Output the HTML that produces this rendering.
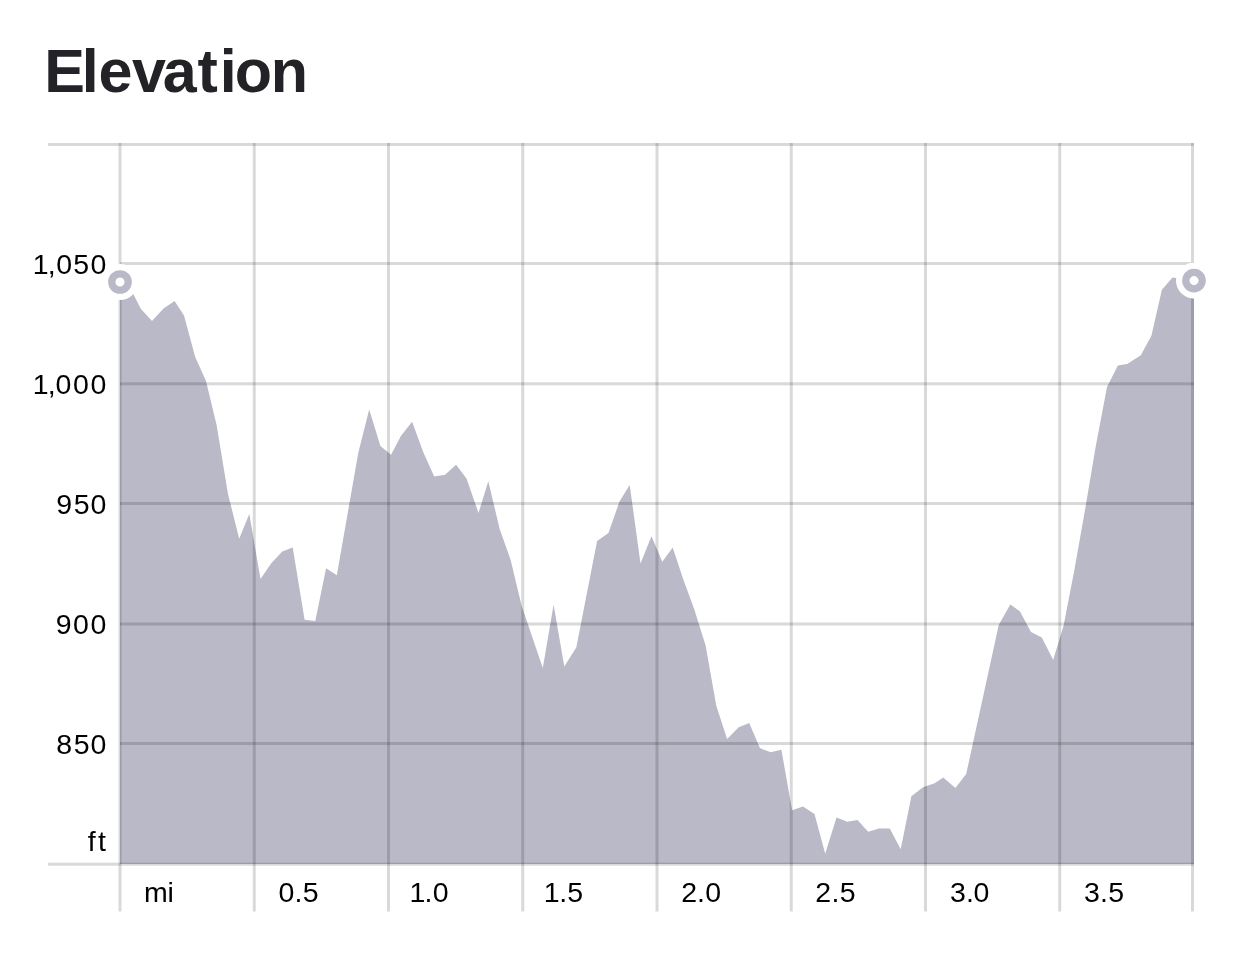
<!DOCTYPE html>
<html><head><meta charset="utf-8"><style>
html,body{margin:0;padding:0;background:#fff;}
body{width:1242px;height:967px;position:relative;overflow:hidden;font-family:"Liberation Sans",sans-serif;}
svg{position:absolute;left:0;top:0;will-change:transform;}
svg text{font-family:"Liberation Sans",sans-serif;font-size:28.5px;fill:#000;}
</style></head><body>
<svg width="1242" height="967" viewBox="0 0 1242 967">
<path d="M120,864 L120.0,282.0 L130.7,289.0 L140.8,308.8 L152.0,320.9 L163.5,308.5 L174.6,301.1 L184.0,315.4 L195.2,357.0 L206.0,381.0 L216.6,425.0 L228.0,494.0 L239.2,538.7 L249.3,513.9 L260.5,579.0 L271.1,563.6 L282.2,551.5 L292.7,547.5 L304.6,619.8 L315.3,621.0 L326.1,568.2 L336.8,575.3 L358.3,452.8 L369.2,409.5 L380.4,446.0 L391.0,454.8 L400.9,436.0 L412.1,421.8 L423.5,452.8 L434.2,476.5 L445.0,474.7 L456.1,464.8 L466.5,478.5 L478.5,513.0 L488.3,481.3 L499.8,529.5 L510.5,559.5 L521.7,606.0 L542.8,668.0 L553.6,604.7 L564.3,666.5 L576.3,647.5 L597.1,541.1 L608.5,532.9 L619.5,501.4 L629.7,484.9 L640.5,563.5 L651.5,536.2 L662.3,561.8 L672.7,547.4 L683.5,580.0 L694.5,610.0 L705.6,645.4 L716.3,705.8 L727.1,738.9 L738.7,727.3 L749.2,723.1 L759.9,748.1 L770.6,752.3 L781.4,749.8 L792.1,810.2 L802.9,806.4 L814.5,814.0 L825.2,853.7 L836.5,817.6 L847.2,821.8 L857.5,820.1 L868.2,831.7 L879.0,828.4 L889.8,828.4 L900.7,849.2 L911.4,796.3 L923.0,787.2 L934.6,783.3 L943.3,777.5 L955.4,788.0 L966.2,774.0 L998.8,624.7 L1010.3,604.6 L1020.0,611.4 L1031.0,632.0 L1041.8,637.5 L1053.2,660.0 L1063.5,626.0 L1074.0,572.0 L1085.0,510.0 L1096.0,445.0 L1107.0,387.0 L1117.9,365.5 L1127.2,364.0 L1140.8,355.3 L1151.4,335.7 L1161.9,289.8 L1172.5,277.4 L1194.0,280.6 L1194,864 Z" fill="#b9b9c7"/>
<rect x="48.00" y="143.00" width="1146.00" height="3" fill="rgba(0,0,0,0.15)"/><rect x="120.00" y="262.00" width="1074.00" height="3" fill="rgba(0,0,0,0.15)"/><rect x="120.00" y="382.30" width="1074.00" height="3" fill="rgba(0,0,0,0.15)"/><rect x="120.00" y="502.00" width="1074.00" height="3" fill="rgba(0,0,0,0.15)"/><rect x="120.00" y="622.50" width="1074.00" height="3" fill="rgba(0,0,0,0.15)"/><rect x="120.00" y="742.00" width="1074.00" height="3" fill="rgba(0,0,0,0.15)"/><rect x="48.00" y="862.70" width="1146.00" height="3" fill="rgba(0,0,0,0.15)"/><rect x="118.50" y="143" width="3" height="768.50" fill="rgba(0,0,0,0.15)"/><rect x="252.75" y="143" width="3" height="768.50" fill="rgba(0,0,0,0.15)"/><rect x="387.00" y="143" width="3" height="768.50" fill="rgba(0,0,0,0.15)"/><rect x="521.25" y="143" width="3" height="768.50" fill="rgba(0,0,0,0.15)"/><rect x="655.50" y="143" width="3" height="768.50" fill="rgba(0,0,0,0.15)"/><rect x="789.75" y="143" width="3" height="768.50" fill="rgba(0,0,0,0.15)"/><rect x="924.00" y="143" width="3" height="768.50" fill="rgba(0,0,0,0.15)"/><rect x="1058.25" y="143" width="3" height="768.50" fill="rgba(0,0,0,0.15)"/><rect x="1191.00" y="143" width="3" height="768.50" fill="rgba(0,0,0,0.15)"/>
<circle cx="120" cy="282" r="18" fill="#fff"/>
<circle cx="1194" cy="280.6" r="18" fill="#fff"/>
<circle cx="120" cy="282" r="8.2" fill="none" stroke="#b9b9c7" stroke-width="7.3"/>
<circle cx="1194" cy="280.6" r="8.2" fill="none" stroke="#b9b9c7" stroke-width="7.3"/>
<text x="32.84 47.79 56.22 73.15 90.57" y="274.0">1,050</text>
<text x="32.64 47.79 55.57 73.07 90.47" y="394.0">1,000</text>
<text x="56.21 73.75 90.52" y="514.0">950</text>
<text x="55.73 72.97 90.52" y="634.0">900</text>
<text x="56.17 73.75 90.52" y="754.0">850</text>
<text x="87.67 98.03" y="851.0">ft</text>
<text x="144.07 167.59" y="902.0">mi</text>
<text x="278.47 294.54 302.70" y="902.0">0.5</text>
<text x="409.59 424.44 432.82" y="902.0">1.0</text>
<text x="543.64 559.14 567.20" y="902.0">1.5</text>
<text x="681.22 697.04 705.22" y="902.0">2.0</text>
<text x="815.22 831.54 839.70" y="902.0">2.5</text>
<text x="950.11 965.94 973.52" y="902.0">3.0</text>
<text x="1084.11 1099.94 1108.35" y="902.0">3.5</text>
<text x="44.31 81.76 98.54 131.90 162.75 197.54 219.81 234.67 270.75" y="91.8" style="font-family:'Liberation Sans',sans-serif;font-weight:700;font-size:61.0px;fill:#232327">Elevation</text>
</svg>
</body></html>
